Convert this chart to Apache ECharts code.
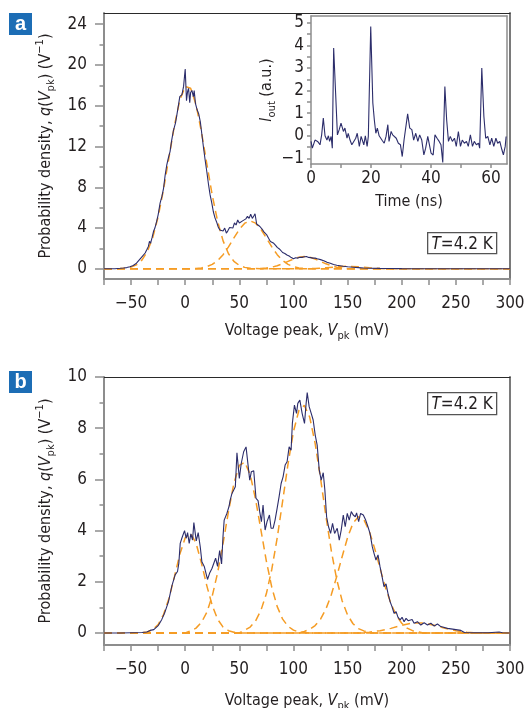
<!DOCTYPE html>
<html><head><meta charset="utf-8">
<script src="https://cdn.jsdelivr.net/npm/echarts@6/dist/echarts.min.js"></script>
<style>html,body{margin:0;padding:0;background:#fff}#c{width:525px;height:708px}</style>
</head><body><div id="c"></div>
<script>
// ---------- DATA ----------
// Panel a: measured histogram (mV, V^-1)
const histAX = [
 -75,-70,-65,-60,-57,-54,-51,-48,-45,-43,
 -41,-39,-37,-35.5,-34,-33,-32,-30.5,-29.3,-28,
 -26.5,-25,-23.2,-21.5,-20,-18.5,-17,-15.5,-14,-12.5,
 -11,-9,-7.7,-6,-5,-3,-1.5,0,1.2,2.2,
 3.1,4.2,5,6.2,7.5,8.3,9.5,11,12.5,14,
 15.5,17,18.5,20,21.5,23,24.5,26,27.5,29,
 30.5,32,33.5,35,36.5,38,39.5,41,42.5,44,
 45.5,47,48.5,50,51.5,53,54.5,56,57.5,59,
 60.5,62,63.5,64.5,66,67.5,69,71,72.5,74,
 75.5,77,78.7,80,81.8,83.5,85,87,88.5,90,
 92,94,96,98,100,102,104,106,108,110,
 112,114,116,118,120,122,125,128,131,134,
 137,140,143,146,150,155,160,165,170,180,
 190,200,220,240,260,280,300];
const histAY = [
 0,0,0.01,0.05,0.08,0.12,0.2,0.33,0.55,0.8,
 1.05,1.3,1.55,1.86,2.2,2.7,2.5,3.1,3.66,4.0,
 4.6,5.3,6.44,7.1,7.9,9.2,10.2,10.9,11.5,12.6,
 13.5,14.3,15.1,16.2,16.9,17.1,17.9,19.6,16.5,17.4,
 17.7,16.3,17.3,17.5,16.9,17.5,16.2,15.6,15.2,14.4,
 13.1,11.8,10.6,9.5,8.3,7.25,6.5,5.6,5.0,4.6,
 4.1,3.8,3.95,3.7,4.0,3.5,3.75,4.05,3.9,4.0,
 4.5,4.3,4.8,4.5,4.55,4.7,4.75,4.9,5.15,4.95,
 5.35,4.95,5.2,5.4,4.4,4.3,4.15,3.9,3.65,3.55,
 3.3,3.0,2.68,2.6,2.5,2.3,2.1,1.95,1.8,1.6,
 1.5,1.35,1.25,1.1,0.98,1.08,1.05,1.14,1.12,1.18,
 1.2,1.12,1.1,1.05,1.05,0.98,0.9,0.8,0.65,0.55,
 0.42,0.35,0.3,0.25,0.2,0.16,0.12,0.08,0.06,0.04,
 0.03,0.02,0.01,0.01,0,0,0];
// Panel a: fitted components
const fitA1X = [-75,-65,-60,-55,-50,-45,-40,-35,-30,-25,-20,-15,-10,-5,0,5,10,15,20,25,30,35,40,45,50,55,60,65,70,300];
const fitA1Y = [0,0,0.02,0.07,0.17,0.39,0.85,1.68,3.06,5.10,7.79,10.92,14.03,16.54,17.88,17.72,16.11,13.44,10.28,7.21,4.64,2.74,1.48,0.73,0.33,0.14,0.05,0.02,0,0];
const fitA2X = [-75,5,10,15,20,25,30,35,40,45,50,55,60,65,70,75,80,85,90,95,100,105,110,115,300];
const fitA2Y = [0,0,0.04,0.09,0.21,0.43,0.81,1.39,2.15,3.03,3.87,4.48,4.7,4.48,3.87,3.03,2.15,1.39,0.81,0.43,0.21,0.09,0.04,0,0];
const fitA3X = [-75,65,70,75,80,85,90,95,100,105,110,115,120,125,130,135,140,145,150,155,300];
const fitA3Y = [0,0,0.03,0.08,0.16,0.30,0.49,0.73,0.96,1.14,1.2,1.14,0.96,0.73,0.49,0.30,0.16,0.08,0.03,0,0];
const fitA4X = [-75,110,120,130,140,150,160,170,180,190,300];
const fitA4Y = [0,0,0.03,0.10,0.20,0.25,0.20,0.10,0.03,0,0];

// Inset: output current trace (ns, a.u.)
const traceT = [
 0,0.44,1.33,2.2,3.0,3.55,4.1,4.67,5.3,5.8,
 6.2,6.7,7.1,7.55,8.2,8.8,9.4,10.0,10.8,11.3,
 12.0,12.4,13.0,13.6,14.2,14.9,15.4,16.1,16.7,17.1,
 17.6,18.1,18.7,19.1,19.9,20.6,21.1,21.6,22.1,22.7,
 23.3,23.8,24.4,25.0,25.6,26.0,26.7,27.2,27.8,28.4,
 29.1,29.8,30.4,31.0,31.6,32.2,32.9,33.6,34.2,34.9,
 35.6,36.2,36.9,37.6,38.2,38.9,39.3,40.0,40.7,41.3,
 42.0,42.7,43.3,43.9,44.6,45.2,45.8,46.4,47.1,47.8,
 48.4,49.1,49.8,50.4,51.1,51.8,52.4,53.1,53.8,54.4,
 55.1,55.8,56.2,56.9,57.6,58.2,58.9,59.6,60.2,60.9,
 61.6,62.2,62.9,63.6,64.1,64.7,65.0];
const traceI = [
 -0.25,-0.55,-0.19,-0.25,-0.4,0.04,0.78,0.0,-0.19,0.0,
 -0.25,-0.03,-0.55,3.88,1.89,0.04,0.27,0.56,0.19,0.34,
 -0.11,0.11,-0.19,-0.4,-0.4,-0.11,0.11,-0.47,-0.03,-0.03,
 -0.4,0.0,-0.47,-0.03,4.84,1.45,0.7,0.11,0.34,0.0,
 0.04,-0.22,-0.33,-0.03,0.49,-0.25,0.19,0.04,0.11,-0.11,
 -0.33,-0.4,-0.92,-0.19,-0.25,0.97,0.34,0.27,-0.19,0.11,
 -0.25,0.04,-0.19,-0.85,-0.55,-0.03,0.0,-0.77,-0.85,0.04,
 -0.11,-0.25,-0.4,-1.18,2.18,0.7,-0.25,-0.03,-0.25,-0.11,
 -0.47,0.19,-0.47,-0.19,-0.33,-0.25,-0.47,0.04,-0.47,-0.25,
 -0.4,-0.33,-0.55,3.0,0.85,-0.11,-0.03,-0.4,-0.11,-0.47,
 -0.11,-0.33,-0.25,-0.62,-0.85,-0.47,-0.03];

// Panel b: measured histogram
const histBX = [
 -75,-60,-50,-40,-35.5,-32.4,-29,-27.8,-24.7,-21.6,
 -19.1,-17,-15.4,-13.9,-12.3,-10.8,-9.3,-7.1,-5.9,-4.6,
 -3.1,-0.6,0.9,2.2,3.7,5.2,6.8,8,10.2,12,
 13.9,15.4,17.6,20.6,22.5,24.7,26.2,28.1,29.9,31.8,
 33.6,34.9,36,38.5,40.4,41.6,43.2,44.7,46.3,47.8,
 50,51.8,54,56.2,58,59.6,61.1,63.3,65.4,67.3,
 68.8,70.4,71.9,73.8,75.6,77.8,79.3,81.2,83,84.9,
 86.7,88.6,90.4,92.3,94.1,96,97.8,99,100.9,102.8,
 104,105.9,108,110.2,111.7,112.7,114.5,116.4,118.2,120.1,
 121.9,123.8,125.6,127.5,129,130.6,132.4,134.3,136.1,138,
 140.4,142.3,144.1,146,147.8,149.7,151.5,153.4,155.2,157.1,
 158.3,160.2,162,164.5,166.7,168.8,170.7,172.8,174.4,176.2,
 178.1,179.9,181.8,183.6,185.5,187.3,189.2,191,192.9,194.8,
 196.6,198.5,200.3,202.2,204,205.9,207.7,209.6,211.4,214.5,
 217.6,220.7,223.8,226.9,230,233,236.1,242.3,248.5,254.6,
 258,265,280,290,293,300];
const histBY = [
 0,0,0.01,0.02,0.04,0.1,0.13,0.17,0.3,0.53,
 0.77,1.03,1.23,1.2,1.84,1.81,2.27,2.4,2.72,3.5,
 3.7,4.0,3.7,3.92,3.5,3.87,3.63,4.31,3.6,3.92,
 3.37,2.78,2.6,2.09,2.33,2.52,2.46,2.92,2.6,3.22,
 2.7,3.76,4.41,4.67,4.93,5.2,5.45,5.58,5.71,7.04,
 6.04,6.63,7.08,7.27,7.27,5.97,6.3,6.34,5.26,5.17,
 4.74,4.35,5.0,4.02,4.35,4.61,4.09,4.09,4.41,4.87,
 5.32,5.84,6.1,6.56,6.69,7.27,7.14,8.2,8.9,8.58,
 8.97,9.1,8.58,8.19,8.97,9.39,8.84,8.58,8.32,7.73,
 7.34,6.37,5.97,6.26,5.58,4.54,4.15,3.89,4.28,3.89,
 4.09,3.63,4.02,4.61,4.15,4.67,4.41,4.74,4.61,4.54,
 4.69,4.35,4.67,4.61,4.41,4.15,3.89,3.37,3.11,2.85,
 3.05,2.6,2.21,1.81,1.92,1.55,1.23,1.03,0.77,0.83,
 0.61,0.51,0.61,0.44,0.57,0.48,0.44,0.53,0.38,0.44,
 0.31,0.4,0.31,0.38,0.27,0.35,0.25,0.18,0.14,0.1,
 0.02,0.01,0.01,0.04,0.01,0];
// Panel b: fitted components
const fitB1X = [-75,-45,-40,-35,-30,-25,-20,-15,-10,-5,0,5,10,15,20,25,30,35,40,45,50,300];
const fitB1Y = [0,0,0.01,0.04,0.13,0.33,0.72,1.35,2.19,3.07,3.72,3.89,3.51,2.73,1.84,1.07,0.53,0.23,0.09,0.03,0,0];
const fitB2X = [-75,0,5,10,15,20,25,30,35,40,45,50,55,60,65,70,75,80,85,90,95,100,105,110,115,300];
const fitB2Y = [0,0,0.08,0.19,0.41,0.81,1.45,2.36,3.51,4.75,5.85,6.55,6.67,6.19,5.22,4.01,2.80,1.78,1.03,0.54,0.26,0.11,0.04,0.02,0,0];
const fitB3X = [-75,50,55,60,65,70,75,80,85,90,95,100,105,110,115,120,125,130,135,140,145,150,155,160,165,170,175,300];
const fitB3Y = [0,0,0.11,0.23,0.47,0.89,1.54,2.49,3.72,5.15,6.61,7.87,8.69,8.89,8.43,7.41,6.04,4.56,3.2,2.08,1.25,0.70,0.36,0.17,0.08,0.03,0,0];
const fitB4X = [-75,105,110,115,120,125,130,135,140,145,150,155,160,165,170,175,180,185,190,195,200,205,210,215,220,300];
const fitB4Y = [0,0,0.06,0.14,0.29,0.54,0.94,1.50,2.21,2.99,3.73,4.29,4.54,4.43,3.98,3.30,2.52,1.77,1.15,0.68,0.38,0.19,0.09,0.04,0,0];
const fitB5X = [-75,160,170,180,190,200,210,220,230,240,250,260,270,300];
const fitB5Y = [0,0,0.03,0.09,0.18,0.30,0.39,0.39,0.30,0.18,0.09,0.03,0,0];

// Tick / label values
const vpkTicks = [-75,-50,-25,0,25,50,75,100,125,150,175,200,225,250,275,300];
const vpkLabels = [-50,0,50,100,150,200,250,300];
const qALabels = [0,4,8,12,16,20,24];
const qAMinor = [2,6,10,14,18,22];
const qBLabels = [0,2,4,6,8,10];
const qBMinor = [1,3,5,7,9];
const tLabels = [0,20,40,60];
const tTicks = [0,10,20,30,40,50,60];
const iLabels = [-1,0,1,2,3,4,5];
const iTicks = [-1,-0.5,0,0.5,1,1.5,2,2.5,3,3.5,4,4.5,5];

// ---------- STYLE ----------
const FONT = '"Liberation Sans Narrow","DejaVu Sans Condensed","Liberation Sans",sans-serif';
const NAVY = '#2c2d6b';
const ORANGE = '#f59c24';
const AXG = '#8d8d8d';
const TXT = '#231f20';
const TICKFS = 17;
const fmt = v => String(v).replace('-', '\u2212');
const zip = (xs, ys) => xs.map((x, i) => [x, ys[i]]);

const richBase = {
  t: {fontFamily: FONT, fontSize: 16, color: TXT, lineHeight: 22},
  i: {fontFamily: FONT, fontSize: 16, color: TXT, lineHeight: 22, fontStyle: 'italic'},
  s: {fontFamily: FONT, fontSize: 11, color: TXT, lineHeight: 11, verticalAlign: 'bottom'},
  p: {fontFamily: FONT, fontSize: 11, color: TXT, lineHeight: 11, verticalAlign: 'top'}
};
const vpkName = '{t|Voltage peak, }{i|V}{s|pk}{t| (mV)}';
const qName = '{t|Probability density, }{i|q}{t|(}{i|V}{s|pk}{t|) (V}{p|\u22121}{t|)}';

function bottomAxis(grid, min, max, ticks, labels, opts) {
  return Object.assign({
    type: 'value', gridIndex: grid, position: 'bottom', min, max,
    axisLine: {show: true, onZero: false, lineStyle: {color: AXG, width: 2}},
    axisTick: {show: true, inside: false, length: 6, customValues: ticks, lineStyle: {color: AXG, width: 1.5}},
    axisLabel: {show: true, customValues: labels, formatter: fmt, fontFamily: FONT, fontSize: TICKFS, color: TXT, margin: 16},
    splitLine: {show: false}
  }, opts || {});
}
function leftAxis(grid, min, max, ticks, labels, opts) {
  return Object.assign({
    type: 'value', gridIndex: grid, position: 'left', min, max,
    axisLine: {show: true, onZero: false, lineStyle: {color: AXG, width: 2}},
    axisTick: {show: true, inside: false, length: 9, customValues: ticks, lineStyle: {color: AXG, width: 1.5}},
    axisLabel: {show: true, customValues: labels, formatter: fmt, fontFamily: FONT, fontSize: TICKFS, color: TXT, margin: 17},
    splitLine: {show: false}
  }, opts || {});
}
function frameAxis(kind, grid, min, max, color, width) {
  return {
    type: 'value', gridIndex: grid, position: kind, min, max,
    axisLine: {show: true, onZero: false, lineStyle: {color, width}},
    axisTick: {show: false}, axisLabel: {show: false}, splitLine: {show: false}
  };
}
function minorAxis(grid, min, max, ticks) {
  return {
    type: 'value', gridIndex: grid, position: 'left', min, max,
    axisLine: {show: false, onZero: false},
    axisTick: {show: true, inside: false, length: 4.5, customValues: ticks, lineStyle: {color: AXG, width: 1.5}},
    axisLabel: {show: false}, splitLine: {show: false}
  };
}
function hiddenX(grid) {
  return {type: 'value', gridIndex: grid, min: -75, max: 300, show: false};
}

const gridA = {left: 104, top: 13, width: 406, height: 266};
const gridIn = {left: 311, top: 16, width: 196, height: 148};
const gridB = {left: 104, top: 377, width: 406, height: 268};

const xAxis = [
  bottomAxis(0, -75, 300, vpkTicks, vpkLabels, {name: vpkName, nameLocation: 'middle', nameGap: 41, nameTextStyle: {rich: richBase}}),
  frameAxis('top', 0, -75, 300, '#2a2a2a', 1),
  bottomAxis(1, 0, 65.3, tTicks, tLabels, {
    axisTick: {show: true, length: 4, customValues: tTicks, lineStyle: {color: AXG, width: 1.5}},
    axisLabel: {show: true, customValues: tLabels, formatter: fmt, fontFamily: FONT, fontSize: TICKFS, color: TXT, margin: 6},
    axisLine: {show: true, onZero: false, lineStyle: {color: AXG, width: 1.5}},
    name: '{t|Time (ns)}', nameLocation: 'middle', nameGap: 27, nameTextStyle: {rich: richBase}}),
  frameAxis('top', 1, 0, 65.3, AXG, 1.5),
  bottomAxis(2, -75, 300, vpkTicks, vpkLabels, {name: vpkName, nameLocation: 'middle', nameGap: 45, nameTextStyle: {rich: richBase}}),
  frameAxis('top', 2, -75, 300, '#2a2a2a', 1),
  hiddenX(3),
  hiddenX(4)
];
const yAxis = [
  leftAxis(0, -1, 25.1, qALabels, qALabels, {name: qName, nameLocation: 'middle', nameGap: 45, nameTextStyle: {rich: richBase}}),
  frameAxis('right', 0, -1, 25.1, '#7a7a7a', 2),
  leftAxis(1, -1.25, 5.3, iTicks, iLabels, {
    axisTick: {show: true, length: 4, customValues: iTicks, lineStyle: {color: AXG, width: 1.5}},
    axisLabel: {show: true, customValues: iLabels, formatter: fmt, fontFamily: FONT, fontSize: TICKFS, color: TXT, margin: 7},
    axisLine: {show: true, onZero: false, lineStyle: {color: AXG, width: 1.5}},
    name: '{i|I}{s|out}{t| (a.u.)}', nameLocation: 'middle', nameGap: 25, nameTextStyle: {rich: richBase}}),
  frameAxis('right', 1, -1.25, 5.3, AXG, 1.5),
  leftAxis(2, -0.47, 10, qBLabels, qBLabels, {name: qName, nameLocation: 'middle', nameGap: 45, nameTextStyle: {rich: richBase}}),
  frameAxis('right', 2, -0.47, 10, '#7a7a7a', 2),
  minorAxis(3, -1, 25.1, qAMinor),
  minorAxis(4, -0.47, 10, qBMinor)
];

function fitSeries(xs, ys, xi, yi) {
  return {type: 'line', xAxisIndex: xi, yAxisIndex: yi, data: zip(xs, ys), showSymbol: false, symbol: 'none',
    lineStyle: {color: ORANGE, width: 1.5, type: [8, 5]}, z: 2, silent: true};
}
function dataSeries(xs, ys, xi, yi) {
  return {type: 'line', xAxisIndex: xi, yAxisIndex: yi, data: zip(xs, ys), showSymbol: false, symbol: 'none',
    lineStyle: {color: NAVY, width: 1.1}, z: 3, silent: true};
}

const series = [
  fitSeries(fitA1X, fitA1Y, 0, 0), fitSeries(fitA2X, fitA2Y, 0, 0),
  fitSeries(fitA3X, fitA3Y, 0, 0), fitSeries(fitA4X, fitA4Y, 0, 0),
  dataSeries(histAX, histAY, 0, 0),
  dataSeries(traceT, traceI, 2, 2),
  fitSeries(fitB1X, fitB1Y, 4, 4), fitSeries(fitB2X, fitB2Y, 4, 4),
  fitSeries(fitB3X, fitB3Y, 4, 4), fitSeries(fitB4X, fitB4Y, 4, 4),
  fitSeries(fitB5X, fitB5Y, 4, 4),
  dataSeries(histBX, histBY, 4, 4)
];

function panelTag(letter, x, y) {
  return {type: 'group', left: x, top: y, children: [
    {type: 'rect', shape: {x: 0, y: 0, width: 23, height: 22}, style: {fill: '#1c6db5'}},
    {type: 'text', x: 11.5, y: 11, style: {text: letter, fill: '#fff', font: 'bold 20px "Liberation Sans", Arial, sans-serif', align: 'center', verticalAlign: 'middle'}}
  ]};
}
function tempBox(x, y, h) {
  return {type: 'group', left: x, top: y, children: [
    {type: 'rect', shape: {x: 0, y: 0, width: 69, height: h}, style: {fill: '#fff', stroke: '#555', lineWidth: 1.3}},
    {type: 'text', x: 34.5, y: h / 2 + 1, style: {text: '{i|T}{t|=4.2 K}', rich: {
      i: {fontFamily: FONT, fontSize: 17, fontStyle: 'italic', fill: TXT},
      t: {fontFamily: FONT, fontSize: 17, fill: TXT}}, align: 'center', verticalAlign: 'middle'}}
  ]};
}

const G = {containLabel: false, outerBoundsMode: 'none'};
const option = {
  animation: false,
  backgroundColor: '#fff',
  grid: [
    Object.assign({}, G, gridA),
    Object.assign({}, G, {show: true, backgroundColor: '#fff', borderWidth: 0}, gridIn),
    Object.assign({}, G, gridB),
    Object.assign({}, G, gridA),
    Object.assign({}, G, gridB)
  ],
  xAxis, yAxis, series,
  graphic: [panelTag('a', 9, 13), panelTag('b', 9, 371), tempBox(427, 232, 21), tempBox(427, 392, 22)]
};

const chart = echarts.init(document.getElementById('c'), null, {renderer: 'canvas'});
chart.setOption(option);
</script>
</body></html>
